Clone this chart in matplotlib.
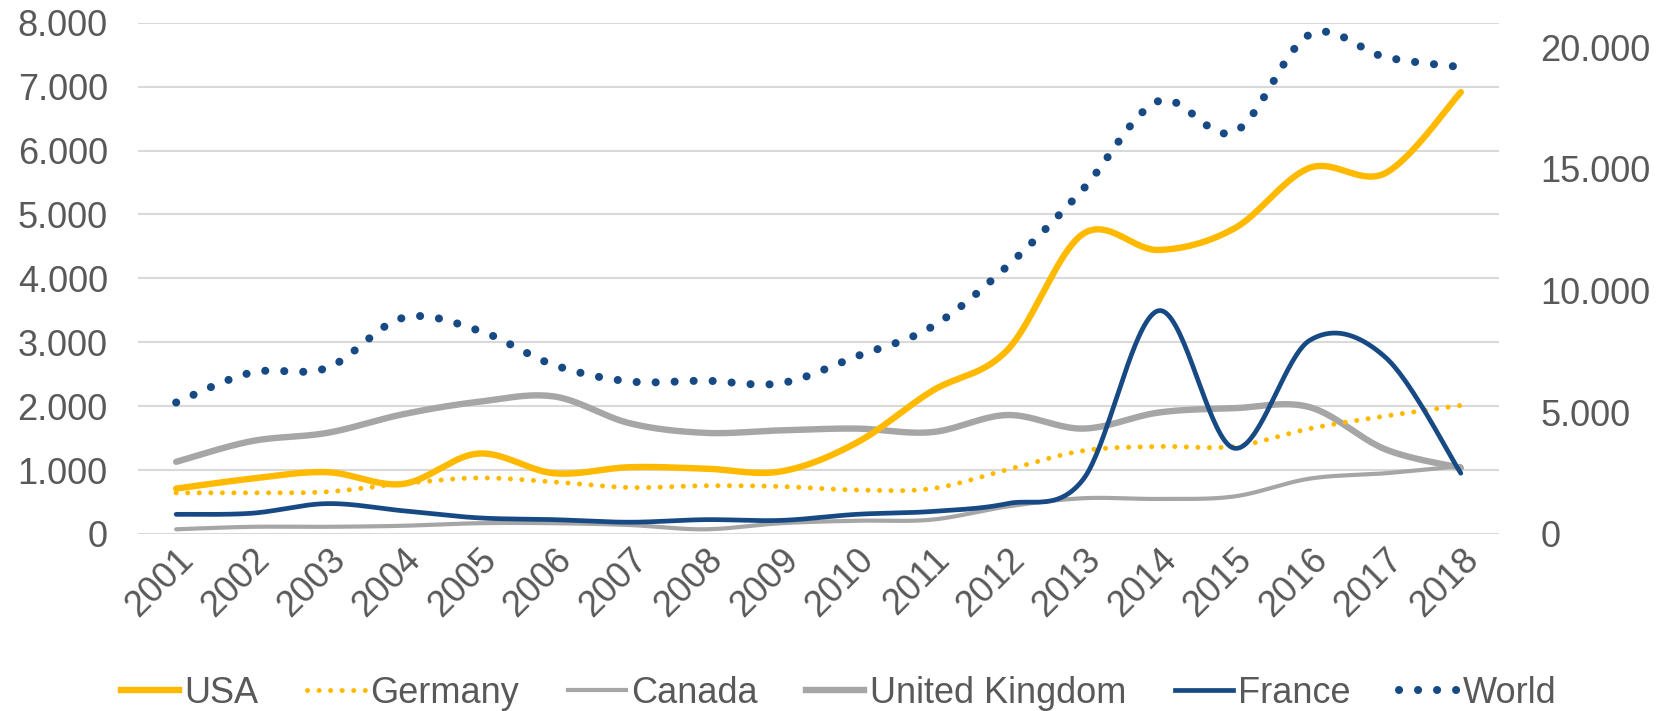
import numpy as np
import matplotlib.pyplot as plt
from matplotlib.lines import Line2D

years = list(range(2001, 2019))
usa = [710, 866, 967, 783, 1258, 950, 1045, 1023, 978, 1425, 2236, 2879, 4695, 4444, 4779, 5729, 5646, 6915]
germany = [643, 643, 660, 790, 877, 815, 727, 755, 743, 688, 710, 1006, 1302, 1369, 1369, 1649, 1845, 2012]
canada = [73, 112, 112, 128, 168, 168, 140, 73, 168, 207, 224, 430, 559, 548, 587, 866, 950, 1062]
uk = [1129, 1453, 1582, 1873, 2068, 2152, 1733, 1582, 1621, 1649, 1593, 1861, 1649, 1900, 1968, 1984, 1325, 1034]
france = [307, 324, 475, 363, 252, 224, 184, 224, 212, 307, 352, 475, 850, 3494, 1342, 3030, 2767, 950]
world = [5400, 6633, 6823, 8877, 8364, 6940, 6265, 6295, 6192, 7292, 8510, 11005, 14159, 17784, 16508, 20514, 19588, 19178]

TXT = '#595959'
YEL = '#FFBA00'
GRY = '#A6A6A6'
BLU = '#174A84'

plt.rcParams['font.family'] = ['Liberation Sans', 'DejaVu Sans']


# Excel-like smoothed line (Bezier through the data points)
def smooth(y, n=40):
    pts = np.column_stack([np.arange(len(y), dtype=float), np.asarray(y, dtype=float)])
    out = []
    m = len(pts)
    for i in range(m - 1):
        p0 = pts[max(i - 1, 0)]
        p1 = pts[i]
        p2 = pts[i + 1]
        p3 = pts[min(i + 2, m - 1)]
        c1 = p1 + (p2 - p0) / 6
        c2 = p2 - (p3 - p1) / 6
        t = np.linspace(0, 1, n)[:, None]
        seg = (1 - t) ** 3 * p1 + 3 * (1 - t) ** 2 * t * c1 + 3 * (1 - t) * t ** 2 * c2 + t ** 3 * p2
        out.append(seg if i == 0 else seg[1:])
    out = np.vstack(out)
    return out[:, 0], out[:, 1]


GER_STYLE = dict(color=YEL, lw=3.6, linestyle=(0, (0.01, 2.3)), dash_capstyle='round')
WLD_STYLE = dict(color=BLU, lw=5.8, linestyle=(0, (0.01, 2.35)), dash_capstyle='round')

fig = plt.figure(figsize=(16.67, 7.11), dpi=100)
ax = fig.add_axes([0.083, 0.249, 0.816, 0.719])
ax2 = ax.twinx()

x, y = smooth(canada)
ax.plot(x, y, color=GRY, lw=3.0, solid_capstyle='round', zorder=3)
x, y = smooth(uk)
ax.plot(x, y, color=GRY, lw=4.6, solid_capstyle='round', zorder=3)
x, y = smooth(germany)
ax.plot(x, y, zorder=4, **GER_STYLE)
x, y = smooth(usa)
ax.plot(x, y, color=YEL, lw=4.6, solid_capstyle='round', zorder=5)
x, y = smooth(france)
ax.plot(x, y, color=BLU, lw=3.4, solid_capstyle='round', zorder=6)
x, y = smooth(world)
ax2.plot(x, y, **WLD_STYLE)

ax.set_xlim(-0.5, len(years) - 0.5)
ax.set_ylim(0, 8000)
ax2.set_ylim(0, 21000)
ax.set_yticks(range(0, 8001, 1000))
ax.set_yticklabels([f'{v:,}'.replace(',', '.') for v in range(0, 8001, 1000)])
ax2.set_yticks(range(0, 20001, 5000))
ax2.set_yticklabels([f'{v:,}'.replace(',', '.') for v in range(0, 20001, 5000)])
ax.set_xticks(range(len(years)))
ax.set_xticklabels([str(v) for v in years], rotation=45, ha='right', rotation_mode='anchor')

for a in (ax, ax2):
    for s in a.spines.values():
        s.set_visible(False)
    a.tick_params(length=0, labelsize=26, labelcolor=TXT)
ax.tick_params(axis='y', pad=22)
ax2.tick_params(axis='y', pad=30)
ax.tick_params(axis='x', pad=6)
ax.grid(axis='y', color='#D9D9D9', lw=1.5)
ax.set_axisbelow(True)

handles = [
    Line2D([], [], color=YEL, lw=4.6),
    Line2D([], [], **GER_STYLE),
    Line2D([], [], color=GRY, lw=3.0),
    Line2D([], [], color=GRY, lw=4.6),
    Line2D([], [], color=BLU, lw=3.4),
    Line2D([], [], **WLD_STYLE),
]
labels = ['USA', 'Germany', 'Canada', 'United Kingdom', 'France', 'World']
leg = fig.legend(handles, labels, loc='center', bbox_to_anchor=(0.503, 0.025), ncol=6, frameon=False,
                 fontsize=26, handlelength=1.6, handletextpad=0.15, columnspacing=1.35, labelcolor=TXT)

fig.savefig('out.png', dpi=100)
